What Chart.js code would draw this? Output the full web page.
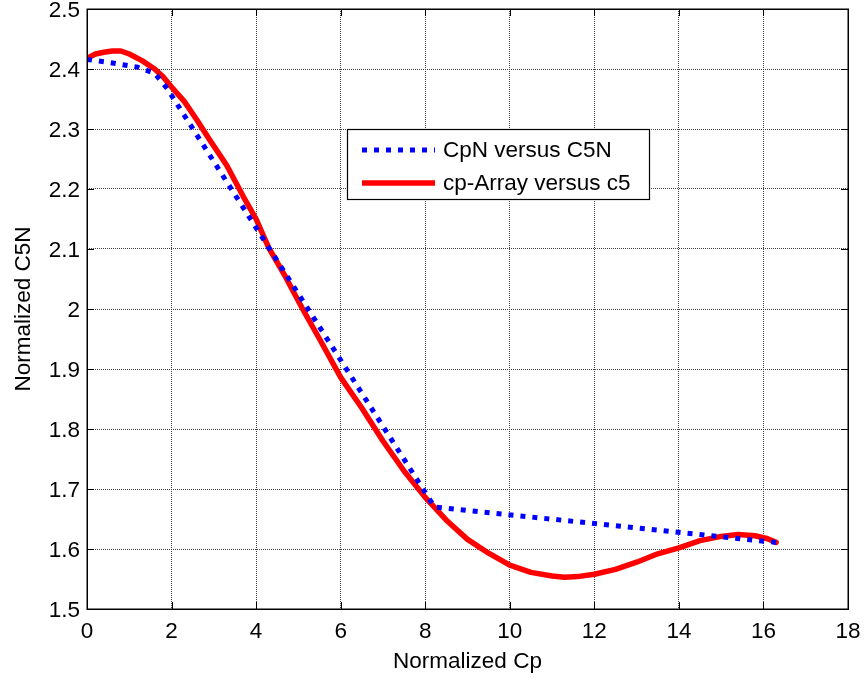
<!DOCTYPE html>
<html><head><meta charset="utf-8">
<script src="https://cdn.jsdelivr.net/npm/chart.js@4"></script>
<style>html,body{margin:0;padding:0;background:#fff}#wrap{width:865px;height:682px}</style>
</head><body><div id="wrap"><canvas id="c" width="865" height="682"></canvas></div>
<script>
// ---- data ----
const cpN = [0, 0.6, 1.2, 1.6, 1.9, 8.22, 16.3];
const c5N = [2.416, 2.410, 2.403, 2.393, 2.367, 1.670, 1.611];

const cpArray = [0, 0.2, 0.4, 0.6, 0.8, 1.0, 1.3, 1.6, 1.8, 2.0, 2.3, 2.6, 2.9, 3.3, 3.7, 4.0, 4.3, 4.7, 5.1, 5.5, 6.0, 6.5, 7.0, 7.5, 8.0, 8.5, 9.0, 9.5, 10.0, 10.5, 11.0, 11.3, 11.6, 12.0, 12.5, 13.0, 13.5, 14.0, 14.5, 15.0, 15.4, 15.8, 16.1, 16.3];
const c5 = [2.418, 2.425, 2.428, 2.430, 2.430, 2.425, 2.414, 2.400, 2.387, 2.370, 2.346, 2.315, 2.282, 2.240, 2.187, 2.150, 2.102, 2.053, 2.000, 1.950, 1.886, 1.835, 1.780, 1.730, 1.686, 1.648, 1.616, 1.593, 1.573, 1.561, 1.555, 1.553, 1.554, 1.558, 1.566, 1.578, 1.592, 1.602, 1.614, 1.621, 1.624, 1.622, 1.617, 1.611];

const xTicks = [0, 2, 4, 6, 8, 10, 12, 14, 16, 18];
const xTickLabels = ['0', '2', '4', '6', '8', '10', '12', '14', '16', '18'];
const yTicks = [1.5, 1.6, 1.7, 1.8, 1.9, 2.0, 2.1, 2.2, 2.3, 2.4, 2.5];
const yTickLabels = ['1.5', '1.6', '1.7', '1.8', '1.9', '2', '2.1', '2.2', '2.3', '2.4', '2.5'];
const seriesNames = ['CpN versus C5N', 'cp-Array versus c5'];
const xTitle = 'Normalized Cp';
const yTitle = 'Normalized C5N';

const FONT = '"Liberation Sans", Arial, Helvetica, sans-serif';
const FS = 22.5;

const toPts = (xs, ys) => xs.map((x, i) => ({x, y: ys[i]}));

const frameTicks = {
  id: 'frameTicks',
  afterDatasetsDraw(chart) {
    const {ctx, chartArea: a, scales} = chart;
    ctx.save();
    ctx.strokeStyle = '#000';
    ctx.lineWidth = 1;
    ctx.setLineDash([]);
    const L = 7;
    ctx.beginPath();
    xTicks.forEach(v => {
      const px = Math.round(scales.x.getPixelForValue(v)) + 0.5;
      ctx.moveTo(px, a.bottom); ctx.lineTo(px, a.bottom - L);
      ctx.moveTo(px, a.top); ctx.lineTo(px, a.top + L);
    });
    yTicks.forEach(v => {
      const py = Math.round(scales.y.getPixelForValue(v)) + 0.5;
      ctx.moveTo(a.left, py); ctx.lineTo(a.left + L, py);
      ctx.moveTo(a.right, py); ctx.lineTo(a.right - L, py);
    });
    ctx.stroke();
    ctx.lineWidth = 1.5;
    ctx.strokeRect(Math.round(a.left) + 0.25, Math.round(a.top) + 0.25, Math.round(a.right - a.left), Math.round(a.bottom - a.top));
    ctx.restore();
  }
};

const boxLegend = {
  id: 'boxLegend',
  afterDraw(chart) {
    const {ctx} = chart;
    const bx = 347.5, by = 129.5, bw = 302, bh = 70;
    ctx.save();
    ctx.fillStyle = '#fff';
    ctx.fillRect(bx, by, bw, bh);
    ctx.strokeStyle = '#000';
    ctx.lineWidth = 1.2;
    ctx.setLineDash([]);
    ctx.strokeRect(bx, by, bw, bh);
    const rows = [150, 183];
    chart.data.datasets.forEach((ds, i) => {
      ctx.beginPath();
      ctx.strokeStyle = ds.borderColor;
      ctx.lineWidth = ds.borderWidth;
      ctx.setLineDash(ds.borderDash || []);
      ctx.lineCap = 'butt';
      ctx.moveTo(362, rows[i]);
      ctx.lineTo(435, rows[i]);
      ctx.stroke();
      ctx.setLineDash([]);
      ctx.fillStyle = '#000';
      ctx.font = FS + 'px ' + FONT;
      ctx.textBaseline = 'middle';
      ctx.textAlign = 'left';
      ctx.fillText(seriesNames[i], 443, rows[i] + 0.5);
    });
    ctx.restore();
  }
};

new Chart(document.getElementById('c'), {
  type: 'line',
  data: {
    datasets: [
      {
        label: seriesNames[0],
        data: toPts(cpN, c5N),
        borderColor: '#0000ff',
        borderWidth: 5,
        borderDash: [5, 7],
        borderCapStyle: 'butt',
        pointRadius: 0,
        fill: false,
        tension: 0
      },
      {
        label: seriesNames[1],
        data: toPts(cpArray, c5),
        borderColor: '#ff0000',
        borderWidth: 5.5,
        borderJoinStyle: 'round',
        borderCapStyle: 'round',
        pointRadius: 0,
        fill: false,
        tension: 0
      }
    ]
  },
  options: {
    responsive: false,
    animation: false,
    devicePixelRatio: 1,
    layout: {padding: {top: 9, right: 17, left: 0, bottom: 0}},
    plugins: {legend: {display: false}, tooltip: {enabled: false}},
    scales: {
      x: {
        type: 'linear', min: 0, max: 18,
        afterBuildTicks: s => { s.ticks = xTicks.map(v => ({value: v})); },
        afterFit: s => { s.height = 73; s.paddingLeft = 0; s.paddingRight = 0; s.paddingTop = 0; s.paddingBottom = 0; },
        ticks: {
          callback: (v) => xTickLabels[xTicks.indexOf(v)] ?? '',
          color: '#000', font: {family: FONT, size: FS}, padding: 9, maxRotation: 0, autoSkip: false
        },
        grid: {color: '#444', lineWidth: 1, drawTicks: false},
        border: {display: false, dash: [1, 1]},
        title: {display: true, text: xTitle, color: '#000', font: {family: FONT, size: FS}, padding: {top: 0, bottom: 7}}
      },
      y: {
        type: 'linear', min: 1.5, max: 2.5,
        afterBuildTicks: s => { s.ticks = yTicks.map(v => ({value: v})); },
        afterFit: s => { s.width = 87; s.paddingTop = 0; s.paddingBottom = 0; s.paddingLeft = 0; s.paddingRight = 0; },
        ticks: {
          callback: (v) => { const i = yTicks.findIndex(t => Math.abs(t - v) < 1e-9); return i >= 0 ? yTickLabels[i] : ''; },
          color: '#000', font: {family: FONT, size: FS}, padding: 7, labelOffset: 2, autoSkip: false
        },
        grid: {color: '#444', lineWidth: 1, drawTicks: false},
        border: {display: false, dash: [1, 1]},
        title: {display: true, text: yTitle, color: '#000', font: {family: FONT, size: FS}, padding: {top: 10, bottom: 0}}
      }
    }
  },
  plugins: [frameTicks, boxLegend]
});
</script>
</body></html>
